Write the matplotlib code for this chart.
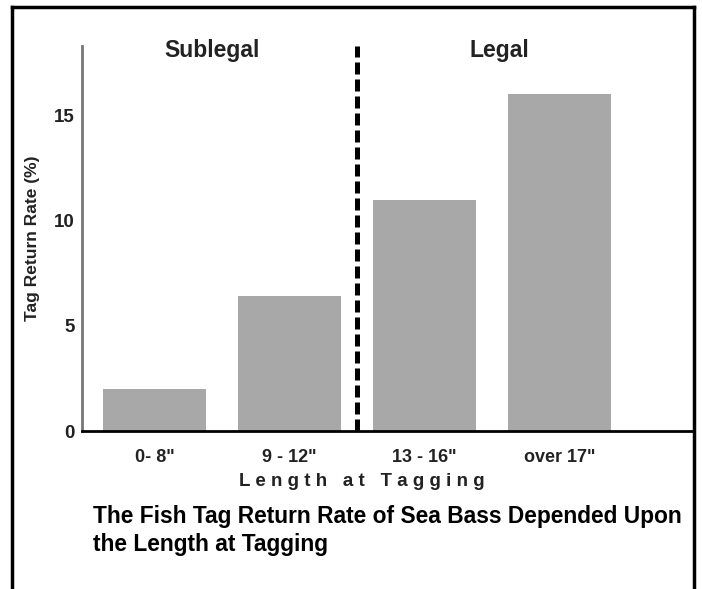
import matplotlib
matplotlib.use("Agg")
import matplotlib.pyplot as plt
from matplotlib.lines import Line2D

plt.rcParams['font.family'] = ['Liberation Sans', 'DejaVu Sans']

categories = ['0- 8"', '9 - 12"', '13 - 16"', 'over 17"']
values = [2.0, 6.4, 11.0, 16.0]
yticks = [0, 5, 10, 15]

fig = plt.figure(figsize=(7.02, 5.89), dpi=100)
ax = fig.add_axes([82/702, 1-431/589, (693-82)/702, (431-46)/589])

x = list(range(len(categories)))
ax.bar(x, values, width=0.76, color='#a8a8a8', zorder=2)
ax.set_xlim(-0.537, 3.99)
ax.set_ylim(0, 18.3)
ax.axvline(1.5, color='black', lw=3.6, ls=(0, (2.4, 1.0)), zorder=3)

ax.set_xticks(x)
ax.set_xticklabels(categories, fontsize=13, fontweight='bold', color='#222222')
ax.set_yticks(yticks)
ax.set_yticklabels([str(t) for t in yticks], fontsize=13.5, fontweight='bold', color='#222222')
ax.tick_params(axis='both', length=0)
ax.tick_params(axis='x', pad=13)
ax.tick_params(axis='y', pad=5)

for s in ['top', 'right']:
    ax.spines[s].set_visible(False)
ax.spines['left'].set_color('#777777')
ax.spines['left'].set_linewidth(2)
ax.spines['bottom'].set_color('black')
ax.spines['bottom'].set_linewidth(2)

ax.set_ylabel('Tag Return Rate (%)', fontsize=12.5, fontweight='bold', color='#222222', labelpad=10)

fig.text(362/702, 1-481/589, 'L e n g t h   a t   T a g g i n g', fontsize=13.5, fontweight='bold',
         ha='center', va='center', color='#222222')

fig.text(212/702, 1-51/589, 'Sublegal', fontsize=16.5, fontweight='bold', ha='center', va='center', color='#222222')
fig.text(499/702, 1-51/589, 'Legal', fontsize=16.5, fontweight='bold', ha='center', va='center', color='#222222')

fig.text(93/702, 1-523/589, 'The Fish Tag Return Rate of Sea Bass Depended Upon',
         fontsize=16.4, fontweight='bold', ha='left', va='baseline', color='black')
fig.text(93/702, 1-551/589, 'the Length at Tagging',
         fontsize=16.4, fontweight='bold', ha='left', va='baseline', color='black')

# outer frame
for (x0, y0, x1, y1) in [(12, 589, 12, 7), (12, 7, 694, 7), (694, 7, 694, 589)]:
    fig.add_artist(Line2D([x0/702, x1/702], [1-y0/589, 1-y1/589], color='black', lw=2.5,
                          transform=fig.transFigure))

fig.savefig('out.png', dpi=100)
